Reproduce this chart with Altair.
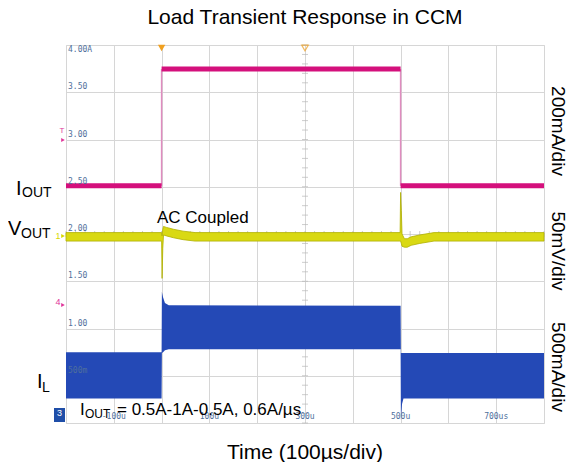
import altair as alt
import pandas as pd

# ---------------- data (scope screen units: 0.5 per division, 8 divisions) -------------
grid_time = [0, 100, 200, 300, 400, 500, 600, 700, 800, 900, 1000]
grid_level = [0, 0.5, 1.0, 1.5, 2.0, 2.5, 3.0, 3.5, 4.0]

# I_OUT trace (magenta)
iout_time = [0, 200, 200, 700, 700, 1000]
iout_value = [2.51, 2.51, 3.745, 3.745, 2.51, 2.51]
iout_seg = [0, 0, 1, 1, 2, 2]

# V_OUT trace (yellow band, AC coupled)
vout_time = [0, 199, 200, 201, 202.5, 204, 210, 225, 245, 270,
             699, 700, 701.5, 703, 708, 714, 722, 740, 770, 1000]
vout_low = [1.925, 1.925, 1.925, 1.53, 1.85, 1.99, 1.98, 1.96, 1.94, 1.925,
            1.925, 1.925, 1.90, 1.87, 1.86, 1.86, 1.88, 1.90, 1.925, 1.925]
vout_high = [2.015, 2.015, 2.015, 1.98, 2.05, 2.08, 2.07, 2.05, 2.03, 2.015,
             2.015, 2.44, 2.25, 2.00, 1.95, 1.95, 1.97, 1.99, 2.015, 2.015]

# I_L trace (blue band: inductor ripple current)
il_time = [0, 200, 200.6, 203, 207, 215, 700, 700.6, 703, 706, 1000]
il_low = [0.26, 0.26, 0.74, 0.75, 0.77, 0.78, 0.78, 0.03, 0.20, 0.26, 0.26]
il_high = [0.75, 0.75, 1.39, 1.33, 1.27, 1.245, 1.24, 0.74, 0.74, 0.74, 0.74]

# scope on-screen labels
scope_level_labels = ["3.50", "3.00", "2.50", "2.00", "1.50", "1.00", "500m"]
scope_level_values = [3.5, 3.0, 2.5, 2.0, 1.5, 1.0, 0.5]
scope_time_labels = ["-100u", "100u", "300u", "500u", "700us"]
scope_time_values = [100, 300, 500, 700, 900]
trigger_time = [200]
center_time = [500]
minor_levels = [i / 10 for i in range(41)]
minor_times = [i * 20 for i in range(51)]

# ---------------- chart -------------
FONT = "Liberation Sans"
X = alt.Scale(domain=[0, 1000], nice=False, zero=False)
Y = alt.Scale(domain=[0, 4], nice=False, zero=False)

grid_df = pd.DataFrame({"t": grid_time[:9], "v": grid_level})
base = alt.Chart(grid_df).mark_point(opacity=0).encode(
    x=alt.X("t:Q", scale=X, axis=alt.Axis(values=grid_time, grid=True, labels=False,
                                          ticks=False, domain=False, title=None,
                                          gridColor="#d6d6d6", gridWidth=1)),
    y=alt.Y("v:Q", scale=Y, axis=alt.Axis(values=grid_level, grid=True, labels=False,
                                          ticks=False, domain=False, title=None,
                                          gridColor="#d6d6d6", gridWidth=1)),
)

vt = pd.DataFrame({"t": [center_time[0]] * len(minor_levels), "v": minor_levels})
vticks = alt.Chart(vt).mark_tick(orient="horizontal", size=6, thickness=1, color="#b8b8b8").encode(
    x=alt.X("t:Q", scale=X), y=alt.Y("v:Q", scale=Y))
ht = pd.DataFrame({"t": minor_times, "v": [2.0] * len(minor_times)})
hticks = alt.Chart(ht).mark_tick(orient="vertical", size=6, thickness=1, color="#b8b8b8").encode(
    x=alt.X("t:Q", scale=X), y=alt.Y("v:Q", scale=Y))

iout_df = pd.DataFrame({"t": iout_time, "v": iout_value, "seg": iout_seg})
edge_df = pd.DataFrame({"t": iout_time[1:5], "v": iout_value[1:5], "seg": [0, 0, 1, 1]})
iout_edges = alt.Chart(edge_df).mark_line(color="#e08cbf", strokeWidth=1.5).encode(
    x=alt.X("t:Q", scale=X), y=alt.Y("v:Q", scale=Y), detail="seg:N")
iout_line = alt.Chart(iout_df).mark_line(color="#d4107c", strokeWidth=5, strokeCap="butt").encode(
    x=alt.X("t:Q", scale=X), y=alt.Y("v:Q", scale=Y), detail="seg:N")

vout_df = pd.DataFrame({"t": vout_time, "lo": vout_low, "hi": vout_high})
vout = alt.Chart(vout_df).mark_area(color="#d9d913", stroke="#b0b000", strokeWidth=0.8).encode(
    x=alt.X("t:Q", scale=X), y=alt.Y("lo:Q", scale=Y), y2="hi:Q")

il_df = pd.DataFrame({"t": il_time, "lo": il_low, "hi": il_high})
il = alt.Chart(il_df).mark_area(color="#2449b6").encode(
    x=alt.X("t:Q", scale=X), y=alt.Y("lo:Q", scale=Y), y2="hi:Q")

lvl_df = pd.DataFrame({"v": scope_level_values, "s": scope_level_labels})
lvl_text = alt.Chart(lvl_df).mark_text(align="left", baseline="middle", dy=-5, dx=0,
                                       font="DejaVu Sans Mono", fontSize=8, color="#4f6f9c").encode(
    x=alt.value(2), y=alt.Y("v:Q", scale=Y), text="s:N")
top_text = alt.Chart(pd.DataFrame({"s": ["4.00A"]})).mark_text(
    align="left", baseline="middle", font="DejaVu Sans Mono", fontSize=8, color="#4f6f9c").encode(
    x=alt.value(2), y=alt.value(5), text="s:N")
tim_df = pd.DataFrame({"t": scope_time_values, "s": scope_time_labels})
tim_text = alt.Chart(tim_df).mark_text(align="center", baseline="middle",
                                       font="DejaVu Sans Mono", fontSize=8, color="#4f6f9c").encode(
    x=alt.X("t:Q", scale=X), y=alt.value(372), text="s:N")

trig = alt.Chart(pd.DataFrame({"t": trigger_time})).mark_point(
    shape="triangle-down", filled=True, size=55, color="#f0a020", opacity=1).encode(
    x=alt.X("t:Q", scale=X), y=alt.value(3))
ctr = alt.Chart(pd.DataFrame({"t": center_time})).mark_point(
    shape="triangle-down", filled=False, size=45, color="#f0a020", strokeWidth=1.2).encode(
    x=alt.X("t:Q", scale=X), y=alt.value(3))


def txt(s, x, y, size, color="#000000", align="left", baseline="alphabetic", angle=0, font=FONT):
    kw = dict(align=align, baseline=baseline, fontSize=size, color=color, font=font)
    if angle:
        kw["angle"] = angle
    return alt.Chart(pd.DataFrame({"s": [s]})).mark_text(**kw).encode(
        x=alt.value(x), y=alt.value(y), text="s:N")


def mark(shape, x, y, size, color, filled=True):
    return alt.Chart(pd.DataFrame({"a": [0]})).mark_point(
        shape=shape, size=size, color=color, filled=filled, opacity=1).encode(
        x=alt.value(x), y=alt.value(y))


box3 = alt.Chart(pd.DataFrame({"a": [0]})).mark_rect(color="#1f4ea8").encode(
    x=alt.value(-12), x2=alt.value(-1), y=alt.value(363), y2=alt.value(377))

annotations = [
    txt("Load Transient Response in CCM", 239, -21, 21, align="center"),
    txt("Time (100µs/div)", 239, 414, 21, align="center"),
    txt("200mA/div", 486, 86, 19, align="center", angle=90),
    txt("50mV/div", 486, 206, 19, align="center", angle=90),
    txt("500mA/div", 486, 322, 19, align="center", angle=90),
    txt("I", -50, 150, 20), txt("OUT", -44, 152, 14),
    txt("V", -58, 190, 20), txt("OUT", -45, 193, 14),
    txt("I", -29, 343, 20), txt("L", -24, 347, 14),
    txt("AC Coupled", 91, 178, 17),
    txt("I", 14, 370, 17), txt("OUT", 19, 373, 12),
    txt("= 0.5A-1A-0.5A, 0.6A/µs", 51, 370, 17),
    txt("T", -4, 86, 8, color="#e0359a", align="center", baseline="middle"),
    mark("triangle-right", -3, 95, 18, "#e0359a"),
    txt("1", -8, 191, 9, color="#d8d800", align="center", baseline="middle"),
    mark("triangle-right", -3, 191, 18, "#d8d800"),
    txt("4", -8, 257, 9, color="#e0359a", align="center", baseline="middle"),
    mark("triangle-right", -3, 260, 18, "#e0359a"),
    box3,
    txt("3", -6.5, 368, 9, color="#ffffff", align="center", baseline="middle"),
]

chart = alt.layer(
    base, vticks, hticks, il, vout, iout_edges, iout_line,
    lvl_text, top_text, tim_text, trig, ctr, *annotations
).properties(
    width=478, height=378,
    autosize=alt.AutoSizeParams(type="none"),
    padding={"left": 58, "top": 37, "right": 22, "bottom": 39},
).configure_view(
    stroke="#3a3a3a", strokeWidth=1.5
).configure(background="white")

chart.save("out.html", embed_options={"renderer": "svg", "actions": False})
